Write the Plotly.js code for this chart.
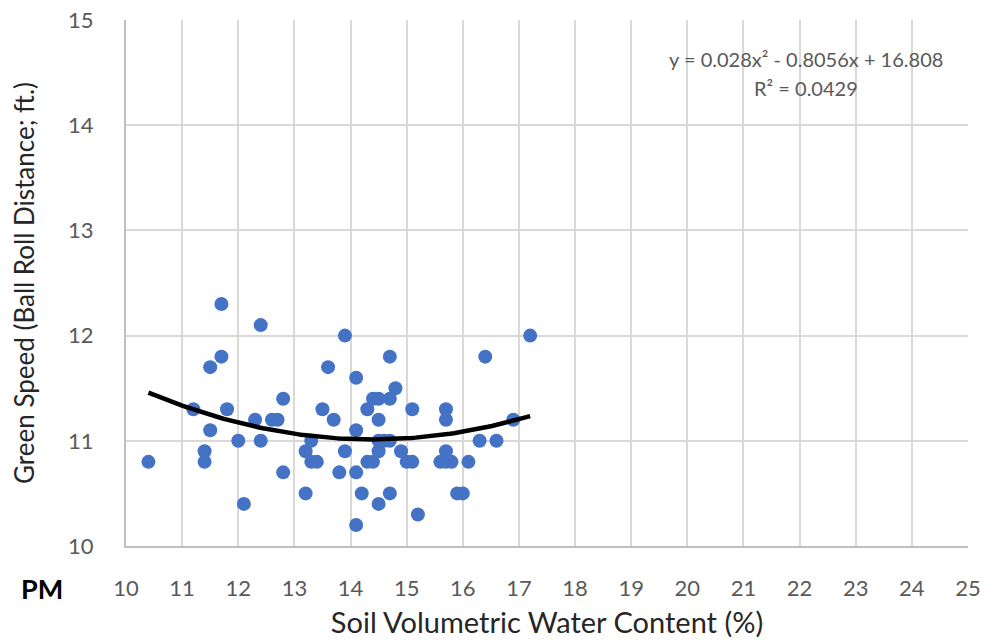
<!DOCTYPE html>
<html>
<head>
<meta charset="utf-8">
<script src="https://cdn.plot.ly/plotly-3.0.1.min.js"></script>
<style>html,body{margin:0;padding:0;background:#fff;}#chart{width:1000px;height:641px;}</style>
</head>
<body>
<div id="chart"></div>
<script>
const soilVWC = [10.4,11.2,11.4,11.4,11.5,11.5,11.7,11.7,11.8,12.0,12.1,12.3,12.4,12.4,12.6,12.7,12.8,12.8,13.2,13.2,13.3,13.3,13.4,13.5,13.6,13.7,13.8,13.9,13.9,14.1,14.1,14.1,14.1,14.2,14.3,14.3,14.4,14.4,14.5,14.5,14.5,14.5,14.5,14.6,14.7,14.7,14.7,14.7,14.8,14.9,15.0,15.1,15.1,15.2,15.6,15.7,15.7,15.7,15.7,15.8,15.9,16.0,16.1,16.3,16.4,16.6,16.9,17.2];
const greenSpeed = [10.8,11.3,10.9,10.8,11.7,11.1,12.3,11.8,11.3,11.0,10.4,11.2,12.1,11.0,11.2,11.2,11.4,10.7,10.9,10.5,11.0,10.8,10.8,11.3,11.7,11.2,10.7,12.0,10.9,11.6,11.1,10.7,10.2,10.5,11.3,10.8,11.4,10.8,11.4,11.2,11.0,10.9,10.4,11.0,11.8,11.4,11.0,10.5,11.5,10.9,10.8,11.3,10.8,10.3,10.8,11.3,11.2,10.9,10.8,10.8,10.5,10.5,10.8,11.0,11.8,11.0,11.2,12.0];
// Trendline coefficients as displayed on the chart: y = a x^2 + b x + c
const trendCoef = [0.028, -0.8056, 16.808];
const xTicks = [10,11,12,13,14,15,16,17,18,19,20,21,22,23,24,25];
const yTicks = [10,11,12,13,14,15];
const eqText = "y = 0.028x² - 0.8056x + 16.808";
const r2Text = "R² = 0.0429";

const xmin = Math.min(...soilVWC), xmax = Math.max(...soilVWC);
const tx = [], ty = [];
for (let i = 0; i <= 100; i++) {
  const x = xmin + (xmax - xmin) * i / 100;
  tx.push(x);
  ty.push(trendCoef[0]*x*x + trendCoef[1]*x + trendCoef[2]);
}

const FONT = 'Lato, Open Sans, sans-serif';

const data = [
  {x: soilVWC, y: greenSpeed, type: 'scatter', mode: 'markers',
   marker: {color: '#4472C4', size: 14}, hoverinfo: 'x+y', showlegend: false},
  {x: tx, y: ty, type: 'scatter', mode: 'lines',
   line: {color: '#000000', width: 4.5}, hoverinfo: 'skip', showlegend: false}
];

const layout = {
  width: 1000, height: 641,
  margin: {l: 126, r: 32, t: 20, b: 95},
  paper_bgcolor: '#ffffff', plot_bgcolor: '#ffffff',
  xaxis: {
    range: [10, 25], tickvals: xTicks, ticktext: xTicks.map(String),
    showgrid: true, gridcolor: '#d9d9d9', gridwidth: 2,
    showline: true, linecolor: '#bfbfbf', linewidth: 2, mirror: false,
    zeroline: false, ticks: '', ticklen: 0, ticklabelstandoff: 22,
    tickfont: {family: FONT, size: 22, color: '#595959'},
    title: {text: 'Soil Volumetric Water Content (%)', standoff: 12,
      font: {family: FONT, size: 29, color: '#262626'}}
  },
  yaxis: {
    range: [10, 15], tickvals: yTicks, ticktext: yTicks.map(String),
    showgrid: true, gridcolor: '#d9d9d9', gridwidth: 2,
    showline: true, linecolor: '#bfbfbf', linewidth: 2,
    zeroline: false, ticks: '', ticklen: 0, ticklabelstandoff: 26,
    tickfont: {family: FONT, size: 22, color: '#595959'},
    title: {text: 'Green Speed (Ball Roll Distance; ft.)', standoff: 26,
      font: {family: FONT, size: 26, color: '#262626'}}
  },
  annotations: [
    {text: eqText, xref: 'paper', yref: 'paper', x: 0.808, y: 0.925, xanchor: 'center', yanchor: 'middle',
     showarrow: false, font: {family: FONT, size: 20, color: '#595959'}},
    {text: r2Text, xref: 'paper', yref: 'paper', x: 0.808, y: 0.871, xanchor: 'center', yanchor: 'middle',
     showarrow: false, font: {family: FONT, size: 20, color: '#595959'}},
    {text: '<b>PM</b>', xref: 'paper', yref: 'paper', x: -0.0998, y: -0.08, xanchor: 'center', yanchor: 'middle',
     showarrow: false, font: {family: FONT, size: 27, color: '#000000'}}
  ]
};

Plotly.newPlot('chart', data, layout, {displayModeBar: false, staticPlot: true});
</script>
</body>
</html>
